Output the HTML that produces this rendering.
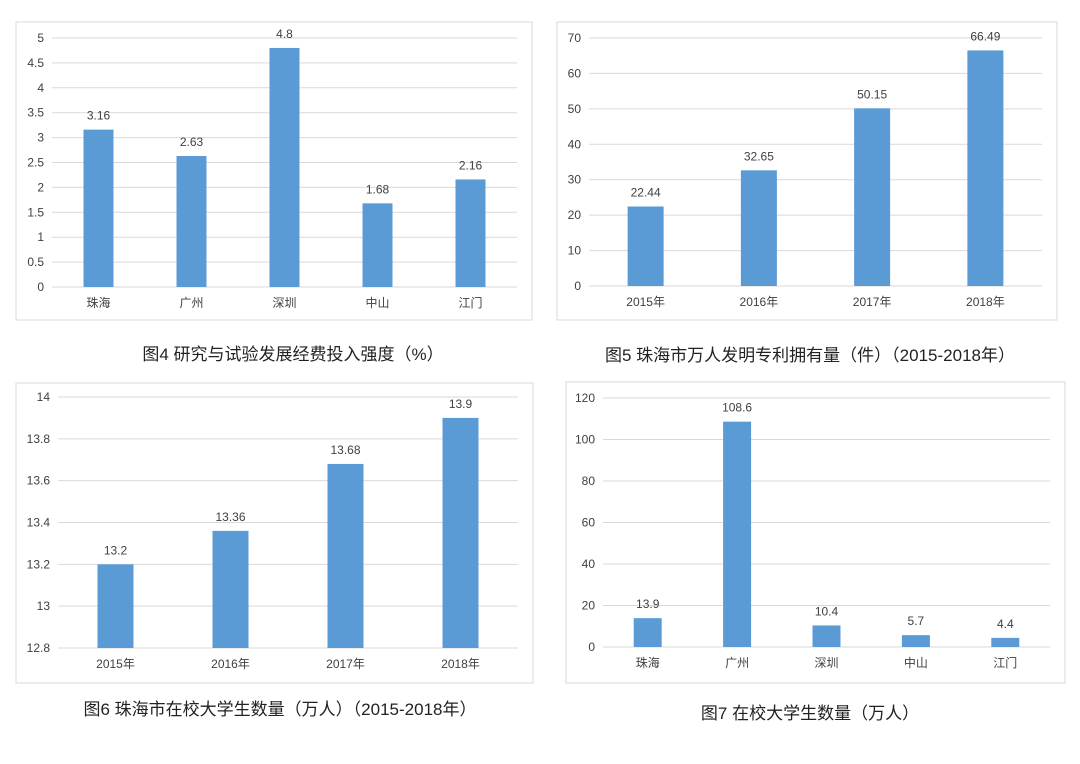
<!DOCTYPE html>
<html><head><meta charset="utf-8">
<style>
body{margin:0;background:#fff;width:1080px;height:764px;overflow:hidden;font-family:"Liberation Sans","Noto Sans CJK SC",sans-serif;}
svg{position:absolute;left:0;top:0;}
</style></head>
<body>
<svg id="s" width="1080" height="764"></svg>
<script>
const cities=["珠海","广州","深圳","中山","江门"];
const years=["2015年","2016年","2017年","2018年"];
const c1Values=[3.16,2.63,4.8,1.68,2.16];
const c1Ticks=[0,0.5,1,1.5,2,2.5,3,3.5,4,4.5,5];
const c2Values=[22.44,32.65,50.15,66.49];
const c2Ticks=[0,10,20,30,40,50,60,70];
const c3Values=[13.2,13.36,13.68,13.9];
const c3Ticks=[12.8,13,13.2,13.4,13.6,13.8,14];
const c4Values=[13.9,108.6,10.4,5.7,4.4];
const c4Ticks=[0,20,40,60,80,100,120];
const titles=["图4 研究与试验发展经费投入强度（%）","图5 珠海市万人发明专利拥有量（件）（2015-2018年）","图6 珠海市在校大学生数量（万人）（2015-2018年）","图7 在校大学生数量（万人）"];
const NS="http://www.w3.org/2000/svg";
const svg=document.getElementById('s');
function mk(tag,attrs,parent){const e=document.createElementNS(NS,tag);for(const k in attrs)e.setAttribute(k,attrs[k]);(parent||svg).appendChild(e);return e;}
function chart(name,box,plot,cats,vals,ticks,barW,title,titlePos){
  const g=mk('g',{});
  
  
  const fr=mk('rect',{x:box[0],y:box[1],width:box[2],height:box[3],fill:'#fff',stroke:'#d9d9d9','stroke-width':1},g);
  
  
  const mn=ticks[0],mx=ticks[ticks.length-1];
  const y=v=>plot.y0+(v-mn)/(mx-mn)*(plot.y1-plot.y0);
  const band=(plot.x1-plot.x0)/cats.length;
  const x=i=>plot.x0+band*(i+0.5);
  ticks.forEach(t=>{
    const l=mk('line',{x1:plot.x0,x2:plot.x1,y1:y(t),y2:y(t),stroke:'#d9d9d9','stroke-width':1},g);
    
    
    const tx=mk('text',{x:plot.x0-8,y:y(t)+4,'text-anchor':'end','font-size':12,fill:'#404040'},g);
    tx.textContent=String(t);
    
    
  });
  vals.forEach((v,i)=>{
    const r=mk('rect',{x:x(i)-barW/2,y:y(v),width:barW,height:y(mn)-y(v),fill:'#5b9bd5'},g);
    
    
    const vl=mk('text',{x:x(i),y:y(v)-10,'text-anchor':'middle','font-size':12,fill:'#404040'},g);
    vl.textContent=String(v);
    
    
    const cl=mk('text',{x:x(i),y:y(mn)+20,'text-anchor':'middle','font-size':12,fill:'#404040'},g);
    cl.textContent=cats[i];
    
    
  });
  const tt=mk('text',{x:titlePos[0],y:titlePos[1],'text-anchor':'middle','font-size':17,fill:'#222'},g);
  tt.textContent=title;
  
  
}
chart('rd-intensity-chart',[16,22,516,298],{x0:52,x1:517,y0:287,y1:38},cities,c1Values,c1Ticks,30,titles[0],[293,360]);
chart('patent-chart',[557,22,500,298],{x0:589,x1:1042,y0:286,y1:38},years,c2Values,c2Ticks,36,titles[1],[810,361]);
chart('zhuhai-students-chart',[16,383,517,300],{x0:58,x1:518,y0:648,y1:397},years,c3Values,c3Ticks,36,titles[2],[280,715]);
chart('city-students-chart',[566,382,499,301],{x0:603,x1:1050,y0:647,y1:398},cities,c4Values,c4Ticks,28,titles[3],[810,719]);
</script>
</body></html>
